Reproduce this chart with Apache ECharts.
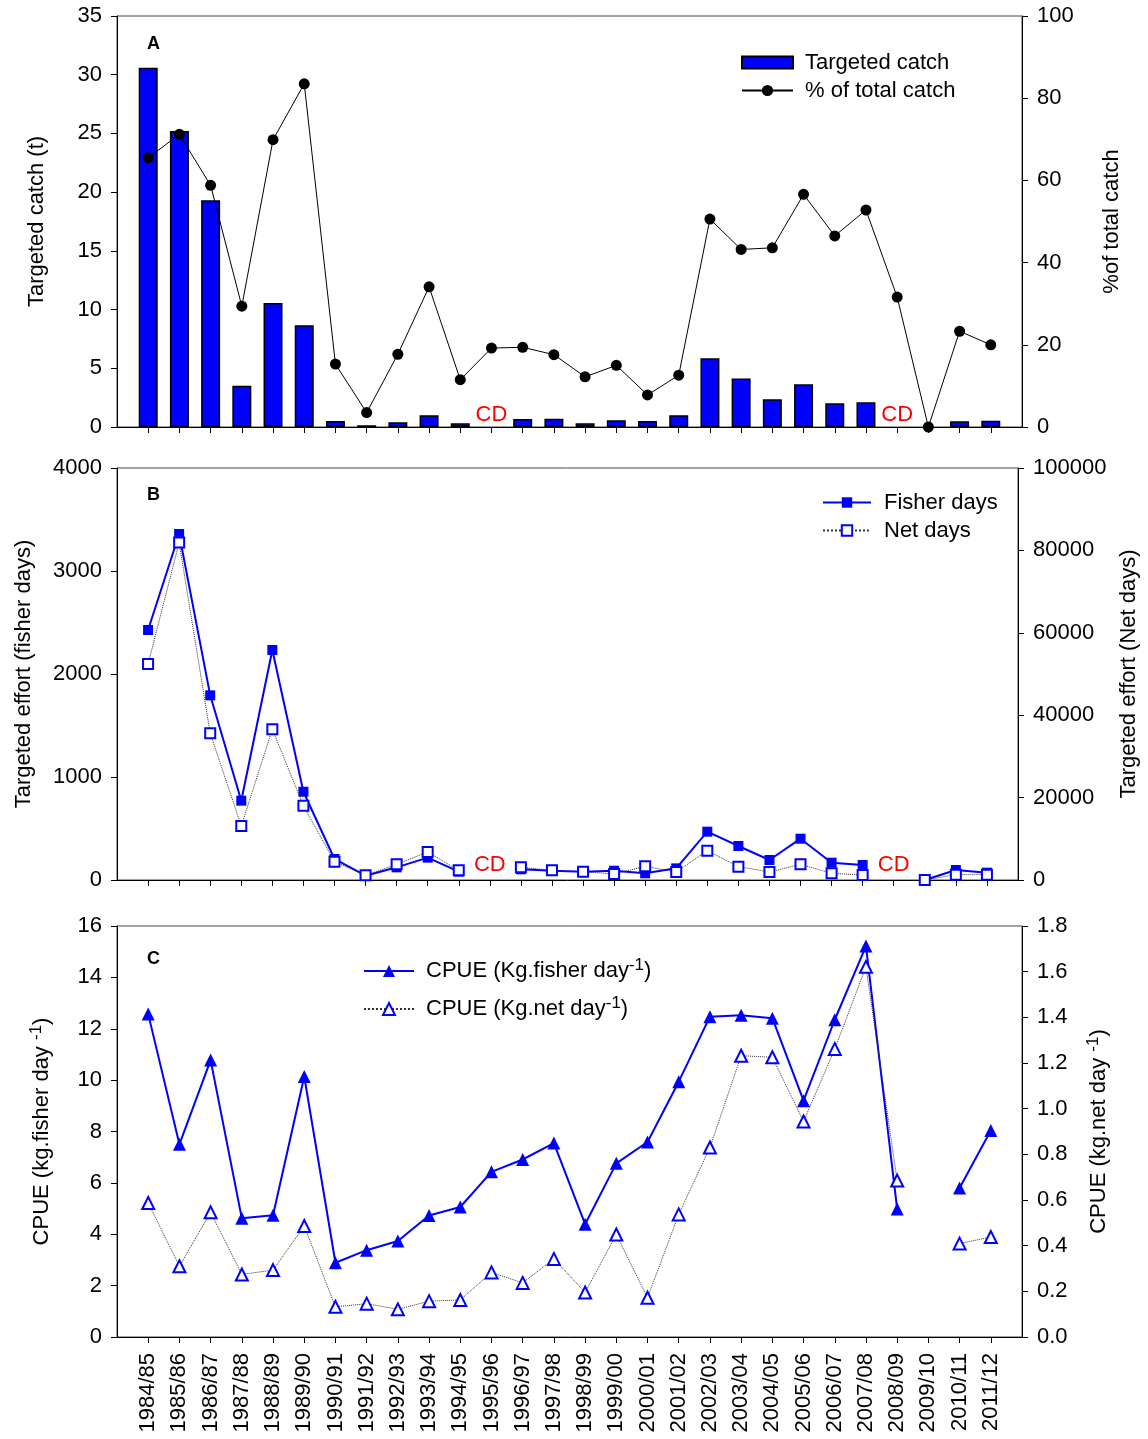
<!DOCTYPE html>
<html><head><meta charset="utf-8">
<script src="https://cdn.jsdelivr.net/npm/echarts@6/dist/echarts.min.js"></script>
<style>html,body{margin:0;padding:0;background:#fff}#c{width:1148px;height:1439px}</style>
</head><body><div id="c"></div>
<script>
const categories = ['1984/85','1985/86','1986/87','1987/88','1988/89','1989/90','1990/91','1991/92','1992/93','1993/94','1994/95','1995/96','1996/97','1997/98','1998/99','1999/00','2000/01','2001/02','2002/03','2003/04','2004/05','2005/06','2006/07','2007/08','2008/09','2009/10','2010/11','2011/12'];
const targetedCatch = [30.6,25.2,19.3,3.52,10.56,8.66,0.51,0.15,0.4,1.0,0.31,null,0.68,0.71,0.31,0.57,0.51,1.0,5.85,4.12,2.36,3.63,2.02,2.10,null,null,0.48,0.54];
const pctTotal = [65.5,71.2,58.8,29.4,69.9,83.5,15.3,3.5,17.7,34.1,11.5,19.2,19.4,17.6,12.2,15.0,7.8,12.6,50.6,43.2,43.6,56.6,46.5,52.8,31.6,0,23.3,20.0];
const fisherDays = [2427,3359,1793,770,2233,857,204,42,123,217,81,null,104,90,81,90,65,113,469,330,194,401,168,146,null,0,97,71];
const netDays = [52400,81900,35600,13100,36600,18000,4450,1130,3800,6800,2350,null,3080,2350,2020,1460,3320,1940,7120,3240,1940,3800,1620,1210,null,0,1300,1300];
const cpueFisher = [12.57,7.5,10.78,4.62,4.74,10.14,2.89,3.38,3.74,4.73,5.06,6.43,6.91,7.55,4.39,6.76,7.59,9.94,12.47,12.53,12.41,9.2,12.35,15.22,4.98,null,5.8,8.04];
const cpueNet = [0.587,0.31,0.546,0.274,0.293,0.486,0.132,0.146,0.121,0.157,0.162,0.283,0.237,0.342,0.195,0.449,0.172,0.537,0.83,1.232,1.225,0.944,1.261,1.621,0.685,null,0.409,0.438];
const cdYears = ['1995/96','2008/09'];

const FONT = '"Liberation Sans", Arial, Helvetica, sans-serif';
const FS = 22;
const xcats = [' ', ...categories, '  '];
const pad = arr => [null, ...arr, null];

const chart = echarts.init(document.getElementById('c'), null, {renderer:'canvas'});

function grid(top, height){
  return {left:117, right:126, top, height, show:true, borderColor:'#444', borderWidth:1, backgroundColor:'transparent'};
}
function xAx(gi, showLabels){
  return {type:'category', gridIndex:gi, data:xcats, boundaryGap:false,
    axisLine:{show:true, lineStyle:{color:'#000', width:1}},
    axisTick:{show:true, length:6, inside:false, interval:(i)=> i>0 && i<xcats.length-1, lineStyle:{color:'#000'}},
    axisLabel:{show:showLabels, interval:0, rotate:90, margin:16, fontSize:22, color:'#000', fontFamily:FONT},
    splitLine:{show:false}};
}
const supRich = {
  n:{fontSize:FS, lineHeight:28, color:'#000', fontFamily:FONT},
  s:{fontSize:17, lineHeight:17, verticalAlign:'top', color:'#000', fontFamily:FONT}
};
function yAx(gi, pos, min, max, interval, name, nameGap, fmt){
  return {type:'value', gridIndex:gi, position:pos, min, max, interval, name,
    nameLocation:'middle', nameGap, nameRotate:90,
    nameTextStyle:{fontSize:FS, color:'#000', fontFamily:FONT, rich:supRich},
    axisLine:{show:true, onZero:false, lineStyle:{color:'#000'}},
    axisTick:{show:true, length:6, lineStyle:{color:'#000'}},
    axisLabel:{fontSize:FS, margin:15, color:'#000', fontFamily:FONT, formatter:fmt || (v => String(v))},
    splitLine:{show:false}};
}
const cdMark = (bottomDist) => ({
  symbol:'rect', symbolSize:0, silent:true,
  label:{show:true, position:'top', distance:bottomDist, formatter:'CD', color:'#FF0000', fontSize:22, fontFamily:FONT},
  data: cdYears.map(c => ({coord:[c, 0]}))
});
const legText = {fontSize:FS, color:'#000', fontFamily:FONT};
const letter = (t, top) => ({text:t, left:147, top, padding:0, textStyle:{fontSize:18, fontWeight:'bold', color:'#000', fontFamily:FONT}});

const option = {
  animation:false,
  backgroundColor:'#fff',
  textStyle:{fontFamily:FONT},
  title:[letter('A',35), letter('B',486), letter('C',950)],
  grid:[grid(16,411), grid(468,412), grid(926,411)],
  xAxis:[xAx(0,false), xAx(1,false), xAx(2,true)],
  yAxis:[
    yAx(0,'left',0,35,5,'Targeted catch (t)',69),
    yAx(0,'right',0,100,20,'%of total catch',79),
    yAx(1,'left',0,4000,1000,'Targeted effort (fisher days)',82),
    yAx(1,'right',0,100000,20000,'Targeted effort (Net days)',100),
    yAx(2,'left',0,16,2,'{n|CPUE (kg.fisher day }{s|-1}{n|)}',61),
    yAx(2,'right',0,1.8,0.2,'{n|CPUE (kg.net day }{s|-1}{n|)}',63, v => v.toFixed(1))
  ],
  legend:[
    {data:['Targeted catch'], left:741, top:51.5, padding:0, icon:'rect', itemWidth:51, itemHeight:12, textStyle:Object.assign({padding:[0,0,0,7]}, legText), selectedMode:false},
    {data:['% of total catch'], left:741, top:79.5, padding:0, itemWidth:51, itemHeight:14, textStyle:Object.assign({padding:[0,0,0,7]}, legText), selectedMode:false},
    {data:['Fisher days'], left:822, top:491.5, padding:0, itemWidth:48, itemHeight:13, textStyle:Object.assign({padding:[0,0,0,8]}, legText), selectedMode:false},
    {data:['Net days'], left:822, top:519.5, padding:0, itemWidth:48, itemHeight:13, textStyle:Object.assign({padding:[0,0,0,8]}, legText), selectedMode:false},
    {data:['CPUE (Kg.fisher day-1)'], left:363, top:957, padding:0, itemWidth:50, itemHeight:15, selectedMode:false,
      formatter: () => '{n|CPUE (Kg.fisher day}{s|-1}{n|)}', textStyle:Object.assign({padding:[0,0,0,7], rich:supRich}, legText)},
    {data:['CPUE (Kg.net day-1)'], left:363, top:995, padding:0, itemWidth:50, itemHeight:15, selectedMode:false,
      formatter: () => '{n|CPUE (Kg.net day}{s|-1}{n|)}', textStyle:Object.assign({padding:[0,0,0,7], rich:supRich}, legText)}
  ],
  series:[
    {type:'bar', name:'Targeted catch', xAxisIndex:0, yAxisIndex:0, data:pad(targetedCatch), barWidth:19,
      itemStyle:{color:'#0000FF', borderColor:'#000', borderWidth:1.5}, markPoint:cdMark(1)},
    {type:'line', name:'% of total catch', xAxisIndex:0, yAxisIndex:1, data:pad(pctTotal), symbol:'circle', symbolSize:11,
      itemStyle:{color:'#000'}, lineStyle:{color:'#000', width:1}, z:3},
    {type:'line', name:'Fisher days', xAxisIndex:1, yAxisIndex:2, data:pad(fisherDays), symbol:'rect', symbolSize:10,
      itemStyle:{color:'#0000FF'}, lineStyle:{color:'#0000FF', width:2}, connectNulls:false, z:3, markPoint:cdMark(4)},
    {type:'line', name:'Net days', xAxisIndex:1, yAxisIndex:3, data:pad(netDays), symbol:'emptyRect', symbolSize:10,
      itemStyle:{color:'#0000FF', borderWidth:2}, lineStyle:{color:'#333', width:1, type:'dotted'}, connectNulls:false, z:4},
    {type:'line', name:'CPUE (Kg.fisher day-1)', xAxisIndex:2, yAxisIndex:4, data:pad(cpueFisher), symbol:'triangle', symbolSize:13,
      itemStyle:{color:'#0000FF'}, lineStyle:{color:'#0000FF', width:2}, connectNulls:false, z:3},
    {type:'line', name:'CPUE (Kg.net day-1)', xAxisIndex:2, yAxisIndex:5, data:pad(cpueNet), symbol:'emptyTriangle', symbolSize:12,
      itemStyle:{color:'#0000FF', borderWidth:2}, lineStyle:{color:'#333', width:1, type:'dotted'}, connectNulls:false, z:4}
  ]
};
chart.setOption(option);
</script></body></html>
